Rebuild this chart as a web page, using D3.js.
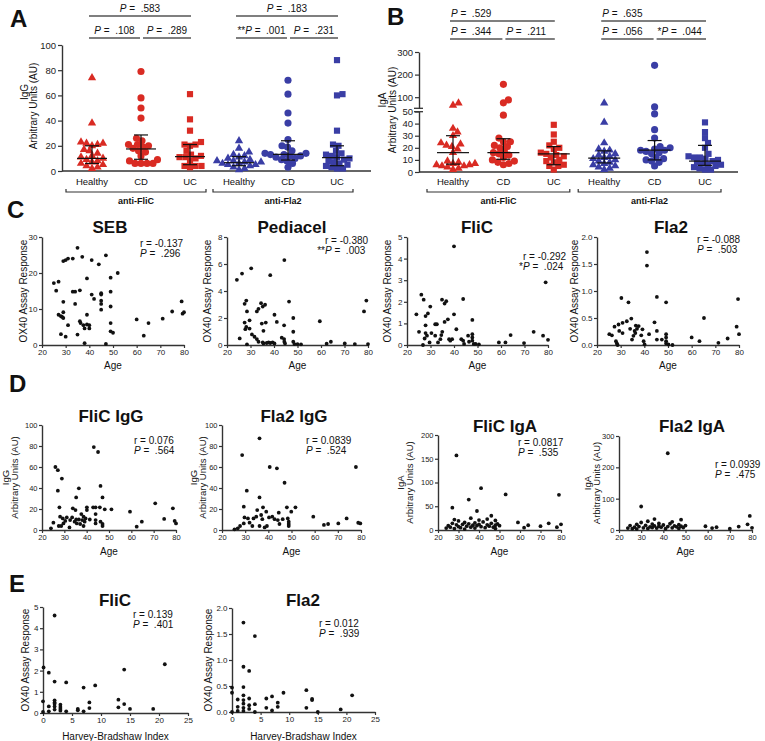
<!DOCTYPE html>
<html>
<head>
<meta charset="utf-8">
<script src="https://cdn.jsdelivr.net/npm/d3@7/dist/d3.min.js"></script>
<style>
  body { margin: 0; background: #fff; }
  svg { display: block; }
</style>
</head>
<body>
<svg id="fig" width="765" height="741"></svg>
<script>
// ---------- data ----------
var groupLabels = ['Healthy', 'CD', 'UC', 'Healthy', 'CD', 'UC'];
var antigenLabels = ['anti-FliC', 'anti-Fla2'];

// A: IgG (AU)
var iggFliCHealthy = [74, 38, 23, 22, 22, 21, 20, 17, 16, 14, 12, 11, 10, 9, 8, 7, 6, 5, 4, 3, 2];
var iggFliCCD = [79, 58, 50, 42, 26, 24, 21, 21, 20, 19, 18, 16, 15, 12, 9, 8, 6, 6, 6, 6];
var iggFliCUC = [61, 41, 32, 23, 21, 21, 20, 16, 13, 12, 11, 11, 10, 8, 4, 4, 4, 3];
var iggFla2Healthy = [24, 18, 15, 13, 12, 11, 10, 9, 8, 8, 7, 7, 6, 6, 5, 5, 4, 3, 2, 1];
var iggFla2CD = [72, 61, 46, 38, 25, 20, 19, 16, 14, 14, 13, 13, 12, 12, 11, 10, 9, 8, 6, 3];
var iggFla2UC = [88, 61, 60, 32, 21, 20, 16, 14, 13, 12, 11, 10, 9, 8, 7, 6, 5, 4, 3, 2, 2];
var iggMedian = [10, 17.5, 11.4, 6.6, 13.2, 10.6];
var iggQ1 = [6, 9.3, 5, 4.2, 8.7, 4.2];
var iggQ3 = [20, 28.6, 21, 11.4, 24, 20];
var iggPTop = [['', '.583'], ['', '.183']];
var iggPLeft = [['', '.108'], ['**', '.001']];
var iggPRight = [['', '.289'], ['', '.231']];

// B: IgA (AU)
var igaFliCHealthy = [74, 64, 36, 33, 30, 24, 23, 22, 21, 19, 16, 9, 8, 7, 7, 6, 6, 5, 5, 4, 3, 2];
var igaFliCCD = [157, 88, 75, 47, 28, 25, 25, 22, 21, 20, 17, 16, 15, 14, 12, 10, 9, 8, 7, 6];
var igaFliCUC = [39, 31, 25, 22, 20, 19, 16, 15, 14, 13, 12, 10, 9, 8, 6, 5, 5, 2];
var igaFla2Healthy = [74, 41, 24, 19, 18, 17, 15, 14, 13, 12, 11, 10, 9, 8, 7, 6, 5, 4, 3, 2];
var igaFla2CD = [241, 57, 48, 35, 28, 21, 20, 19, 18, 18, 17, 16, 15, 12, 11, 10, 9, 8, 5];
var igaFla2UC = [41, 33, 28, 24, 20, 15, 13, 12, 12, 11, 10, 9, 8, 7, 6, 6, 5, 4, 3, 2, 2];
var igaMedian = [16, 16, 15, 11.5, 18, 9];
var igaQ1 = [6.5, 10.5, 6, 7.5, 10, 5.5];
var igaQ3 = [30, 27.5, 21, 17.5, 26, 22];
var igaPTop = [['', '.529'], ['', '.635']];
var igaPLeft = [['', '.344'], ['', '.056']];
var igaPRight = [['', '.211'], ['*', '.044']];

// C: OX40 response vs age  [age, response]
var sebPts = [[25,17.2],[26,15.1],[27,17.6],[27,8.4],[28,8],[28.5,7.8],[29,7.5],[29,9.1],[29,12],[29,23.3],[30,23.6],[31,24],[33,24],[35,27],[37,24.5],[41,23.6],[44,22.4],[47,24.9],[52,20],[49,18.7],[39,18.5],[33,14.8],[34,14.8],[36,15.2],[41,14],[42,12.8],[45,14.4],[45,14],[45,12.3],[45,11.4],[45,9.8],[49,14.8],[49,10.7],[34,11.4],[31,5.5],[36,6.6],[36.3,6.1],[37.5,5.5],[39,8.4],[39,5.7],[40,5.5],[40,4.6],[38,4.6],[28,3],[30,2.3],[35,2.9],[38,0.5],[47,0.3],[49,6.1],[49,3.8],[50,3.4],[60,7.1],[65,6.1],[63,2.6],[71,7.3],[75,9.3],[79,12.1],[79.4,8.7],[80,9.1]];
var pediacelPts = [[24.2,4.83],[26.4,5.29],[30.3,5.68],[38.4,5.17],[44.4,6.29],[46.4,3.22],[27.5,3.05],[28.2,3.29],[28.5,2.49],[29.6,1.83],[32.7,2.49],[33.4,2.68],[34.5,3.1],[35.2,2.85],[36.2,2.98],[40.2,2.24],[41.2,1.71],[44.3,1.46],[48.2,2],[48.2,0.98],[34.8,1.59],[36.5,1.66],[35.5,1.05],[27.5,1.66],[27.8,1.17],[28.2,1.34],[29.6,1.22],[30.6,0.78],[31.7,0.61],[32.7,0.44],[25.4,0.49],[33.4,0.24],[35.2,0.2],[35.5,0.12],[36.9,0.15],[37.7,0.2],[38.4,0.15],[39.4,0.2],[40.2,0.12],[43.3,0.54],[44.3,0.44],[44.4,0.24],[44.7,0.12],[48.2,0.24],[48.7,0.07],[50,0.07],[51.5,0.05],[28.5,0.05],[59.5,1.76],[62.4,0.1],[64.2,0.24],[70.1,0.12],[74.4,0.07],[78.3,2.49],[79.3,3.29],[80,0.07]];
var flicOxPts = [[24,1.42],[25.1,0.61],[26.1,2.33],[27.1,2.1],[26.8,0],[27.5,0.3],[27.9,1.34],[27.9,0.91],[27.9,0.55],[28.5,0.43],[28.9,1.46],[29.9,1.78],[29.6,0.12],[30.4,0.55],[32,0.96],[32.7,0.96],[32,0.43],[33.2,0.12],[34.2,0.27],[34.6,0.46],[35,0.61],[34.9,2.1],[36,1.92],[36.7,2.03],[36,1.07],[37.4,1.19],[37.9,0.27],[38.4,0.2],[39.2,0.27],[40,4.57],[40,1.42],[41,0.73],[43.9,2.13],[43.1,0.27],[43.9,0.2],[44.3,0.05],[46,0.43],[46.4,0.15],[47.8,1.16],[47.8,0.5],[47.8,0.35],[47.8,0.2],[48.4,0.05],[49.2,0.05],[50.6,0.03],[59.1,0.12],[61.9,0.12],[64.1,0.46],[69.8,0.09],[73.9,0.61],[77.9,0.43],[79,2.9],[80,0.24]];
var fla2OxPts = [[25.2,0.2],[26.3,0.18],[27.4,0.34],[28,0.07],[28.4,0.03],[28.7,0],[29.1,0.38],[29.4,0.26],[30.3,0.87],[30.8,0.41],[30.8,0.22],[32.6,0.44],[33.3,0.79],[34,0.3],[34.5,0.49],[34.8,0.1],[35.4,0.17],[35.9,0.26],[36.2,0.22],[36.4,0.36],[36.9,0.3],[37.6,0.35],[38.7,0.18],[39.2,0.29],[39.7,0.07],[40.1,0.01],[41.1,1.72],[41.1,1.47],[42,0.2],[44.3,0.42],[45.3,0.89],[45.3,0.26],[45.3,0.1],[47.4,0.1],[49.2,0.79],[49.2,0.2],[49.2,0.14],[49.2,0.07],[49.2,0.03],[50.2,0.01],[51.9,0],[60,0.14],[63.3,0.07],[65.2,0.5],[71.3,0.04],[75.2,0.12],[79,0.34],[79.6,0.85],[80,0.2]];

// D: antibody level vs age  [age, AU]
var flicIgGPts = [[24,1.6],[25.1,7],[26,60],[27.1,57],[27.1,37.5],[27.5,3.8],[27.8,21.6],[28.1,12.7],[28.6,3.8],[28.9,49],[29.3,11],[29.6,6.3],[30.4,8.6],[31.1,12],[32.3,2.5],[32.6,9.5],[33.5,12],[33.8,20.6],[34.6,7.9],[35,19],[35.3,10],[35.3,31],[35.6,6.3],[36.5,39.7],[36.5,10],[37.1,5.7],[37.6,15.2],[38,9.5],[38.6,12.7],[38.6,3.8],[39.1,7.9],[39.5,11],[40.1,21.6],[40.1,19],[41.4,10],[42.9,21.6],[43.2,79],[44,21.6],[44,15.2],[44,9.5],[44,6.3],[45.1,74.3],[45.9,21.6],[46.2,42],[46.2,7.9],[47.1,31],[47.1,5.7],[47.1,3.8],[48.1,19.7],[51.1,19.7],[59.4,17.5],[62.4,3.2],[64.7,7.9],[70.7,25.4],[74.7,10.5],[78.6,20.6],[79.4,8.6],[80,6.3]];
var fla2IgGPts = [[25.4,0.6],[26.8,1.6],[27.8,3.8],[28.7,71.4],[29.4,22.2],[29.4,6.3],[29.7,12],[30.7,37.5],[31.2,11],[31.9,7],[33.1,3.8],[33.6,11],[34.8,12.7],[35.2,19],[36.2,31],[36.2,87.3],[36.2,3.8],[36.9,14.3],[37.4,10.3],[37.7,21.6],[38.4,2.5],[39.1,17.5],[39.4,3.8],[40.3,12],[40.6,60],[41.7,12.7],[42.7,10.3],[43.7,58.7],[44.1,9.5],[44.5,16.5],[44.8,5.7],[46.2,10.3],[47,45],[48,21.6],[48.4,11],[48.8,7.9],[48.8,5.7],[48.8,3.8],[49.9,17.5],[51.7,21.6],[59.4,12.7],[64,4.8],[65.8,5.7],[70.2,6.3],[73.8,11],[77.8,60],[78.8,6.9],[79.7,6.3]];
var flicIgAPts = [[24,4],[25,9],[26,6],[27,47],[27,14],[28,3],[28,22],[29,157],[29,11],[30,7],[30,19],[31,5],[32,12],[33,16],[33,2],[34,8],[35,64],[35,13],[36,25],[36,6],[37,10],[38,15],[38,4],[39,40],[39,9],[40,21],[40,12],[41,88],[41,7],[42,17],[43,5],[44,23],[44,11],[45,8],[46,14],[46,30],[47,6],[48,10],[48,20],[48,3],[49,13],[50,9],[53,75],[59,16],[62,5],[64,10],[70,8],[74,14],[78,6],[79,74],[80,12]];
var fla2IgAPts = [[24,6],[25,14],[26,4],[27,9],[28,18],[28,3],[29,11],[30,75],[30,24],[31,7],[32,15],[33,5],[33,28],[34,10],[35,19],[35,8],[36,13],[36,35],[37,6],[38,21],[38,12],[39,9],[40,16],[41,4],[42,245],[42,11],[43,20],[44,7],[44,26],[45,13],[46,10],[47,17],[47,5],[48,12],[48,33],[49,8],[50,14],[59,12],[62,6],[64,9],[70,4],[74,11],[78,18],[79,45],[80,7]];

// E: OX40 response vs Harvey-Bradshaw index  [HBI, response]
var flicHbiPts = [[0.1,2.15],[1,1.9],[2,1.48],[2,4.6],[4,1.44],[7,1.2],[9,1.3],[14,2.05],[21,2.3],[0,0.55],[0,0.05],[1,0.31],[1,0.08],[2,0.5],[2,0.44],[2,0.31],[2,0.16],[2,0.6],[3,0.39],[3,0.28],[3,0.19],[3,0.11],[4,0.08],[6,0.19],[6,0.13],[7,0.08],[8,0.5],[8,0.23],[13,0.63],[13,0.27],[14,0.42],[15,0.19],[19,0.19]];
var fla2HbiPts = [[0,0.37],[0,0.47],[0,0],[1,0.24],[1,0.1],[1,0.02],[2,1.72],[2,0.87],[2,0.48],[2,0.32],[2,0.23],[2,0.16],[2,0.08],[2,0.02],[3,0.79],[3,0.26],[3,0.13],[3,0.06],[4,1.46],[4,0.15],[4,0],[6,0.26],[6,0.08],[7,0.3],[7,0.03],[8,0.18],[8,0.1],[9,0.37],[13,0.42],[13,0.08],[14,0.25],[14,0.23],[15,0],[19,0.05],[21,0.32]];

// ---------- drawing ----------
var FONT = '"Liberation Sans", Arial, Helvetica, sans-serif';
var RED = '#d92b23', BLUE = '#3a3ea5', INK = '#111', AX = '#333';

var svg = d3.select('#fig').attr('font-family', FONT);
svg.append('rect').attr('width', 765).attr('height', 741).attr('fill', '#fff');

function styleAxis(g, fs) {
    g.attr('font-family', FONT).attr('font-size', fs);
    g.select('.domain').attr('stroke', AX).attr('stroke-width', 1.4);
    g.selectAll('.tick line').attr('stroke', AX).attr('stroke-width', 1.2);
    g.selectAll('.tick text').attr('fill', '#222');
}

function label(x, y, s, size, opts) {
    opts = opts || {};
    return svg.append('text')
        .attr('x', x).attr('y', y)
        .attr('font-size', size)
        .attr('font-weight', opts.bold ? 'bold' : null)
        .attr('text-anchor', opts.anchor || 'start')
        .attr('fill', INK)
        .text(s);
}

function vlabel(x, cy, s, size) {
    return svg.append('text')
        .attr('transform', 'translate(' + x + ',' + cy + ') rotate(-90)')
        .attr('text-anchor', 'middle')
        .attr('font-size', size)
        .attr('fill', INK)
        .text(s);
}

function pLabel(x, y, anchor, stars, val, size) {
    var t = svg.append('text').attr('x', x).attr('y', y)
        .attr('text-anchor', anchor).attr('font-size', size).attr('fill', INK);
    t.append('tspan').text(stars);
    t.append('tspan').attr('font-style', 'italic').text('P');
    t.append('tspan').text(' =\u00a0\u00a0' + val);
    return t;
}

// simple beeswarm: push each point sideways until it no longer overlaps
function swarm(vals, yf, d) {
    var placed = [];
    vals.slice().sort(d3.ascending).forEach(function (v) {
        var py = yf(v), dx = 0;
        for (var k = 0; k < 400; k++) {
            dx = (k % 2 ? 1 : -1) * Math.ceil(k / 2) * 0.5;
            var ok = placed.every(function (p) {
                return (p.dx - dx) * (p.dx - dx) + (p.y - py) * (p.y - py) >= d * d;
            });
            if (ok) break;
        }
        placed.push({ v: v, y: py, dx: dx });
    });
    return placed;
}

function dotColumns(o) {
    var x = d3.scalePoint().domain(d3.range(6)).range(o.xRange);
    var shapes = [d3.symbolTriangle, d3.symbolCircle, d3.symbolSquare];
    var sizes = [30, 40, 38];

    o.groups.forEach(function (vals, i) {
        var col = i < 3 ? RED : BLUE;
        var pts = swarm(vals, o.y, 5.6);
        svg.append('g').selectAll('path').data(pts).enter().append('path')
            .attr('d', d3.symbol().type(shapes[i % 3]).size(sizes[i % 3]))
            .attr('transform', function (d) { return 'translate(' + (x(i) + d.dx) + ',' + d.y + ')'; })
            .attr('fill', col);

        var cx = x(i);
        var bars = svg.append('g').attr('stroke', INK).attr('stroke-width', 1.2);
        bars.append('line')
            .attr('x1', cx - o.medHalf).attr('x2', cx + o.medHalf)
            .attr('y1', o.y(o.med[i])).attr('y2', o.y(o.med[i]));
        bars.append('line')
            .attr('x1', cx).attr('x2', cx)
            .attr('y1', o.y(o.q1[i])).attr('y2', o.y(o.q3[i]));
        [o.q1[i], o.q3[i]].forEach(function (q) {
            bars.append('line').attr('x1', cx - 7).attr('x2', cx + 7).attr('y1', o.y(q)).attr('y2', o.y(q));
        });

        label(cx, o.catY, groupLabels[i], 9.5, { anchor: 'middle' });
    });

    [0, 1].forEach(function (k) {
        var h = x(k * 3), c = x(k * 3 + 1), u = x(k * 3 + 2);
        var a = h - 26, b = u + 16;
        svg.append('path')
            .attr('d', 'M' + a + ',' + (o.brY - 3) + 'V' + o.brY + 'H' + b + 'V' + (o.brY - 3))
            .attr('fill', 'none').attr('stroke', AX).attr('stroke-width', 1.2);
        label((a + b) / 2, o.brY + 12, antigenLabels[k], 9, { anchor: 'middle', bold: true });

        var segs = [
            [h - 3, u + 1, o.pY1, o.pTop[k]],
            [h - 3, c - 1, o.pY2, o.pLeft[k]],
            [c + 2, u + 1, o.pY2, o.pRight[k]]
        ];
        segs.forEach(function (s) {
            svg.append('line').attr('x1', s[0]).attr('x2', s[1]).attr('y1', s[2]).attr('y2', s[2])
                .attr('stroke', '#555').attr('stroke-width', 1.3);
            if (o.pAnchor === 'middle') {
                pLabel((s[0] + s[1]) / 2, s[2] - 4, 'middle', s[3][0], s[3][1], 10);
            } else {
                pLabel(s[0] + 1, s[2] - 4, 'start', s[3][0], s[3][1], 10);
            }
        });
    });
}

function scatter(o) {
    var x = d3.scaleLinear().domain(o.xd).range([o.left, o.right]);
    var y = d3.scaleLinear().domain(o.yd).range([o.bottom, o.top]);

    var gx = svg.append('g').attr('transform', 'translate(0,' + o.bottom + ')')
        .call(d3.axisBottom(x).tickValues(o.xt).tickFormat(d3.format('d'))
            .tickSize(3).tickSizeOuter(0).tickPadding(1.5));
    styleAxis(gx, o.fs);
    var gy = svg.append('g').attr('transform', 'translate(' + o.left + ',0)')
        .call(d3.axisLeft(y).tickValues(o.yt).tickFormat(d3.format(o.yf || 'd'))
            .tickSize(3).tickSizeOuter(0).tickPadding(1.5));
    styleAxis(gy, o.fs);

    svg.append('g').selectAll('circle').data(o.data).enter().append('circle')
        .attr('cx', function (d) { return x(d[0]); })
        .attr('cy', function (d) { return y(d[1]); })
        .attr('r', 1.9)
        .attr('fill', INK);

    label(o.tx, o.ty, o.title, 17, { anchor: 'middle', bold: true });
    label((o.left + o.right) / 2, o.xly, o.xlab, 10, { anchor: 'middle' });
    o.ylab.forEach(function (s, i) {
        vlabel(o.ylx[i], (o.top + o.bottom) / 2, s, o.ylfs || 10);
    });

    label(o.sx, o.sy, 'r = ' + o.r, 10);
    pLabel(o.sx, o.sy + 10, 'start', '', o.p, 10);
    if (o.stars) label(o.sx, o.sy + 10, o.stars, 10, { anchor: 'end' });
}

// ---- panel letters ----
[['A', 10, 27], ['B', 387, 25], ['C', 7, 218], ['D', 9, 392], ['E', 9, 592]].forEach(function (l) {
    label(l[1], l[2], l[0], 24, { bold: true });
});

// ---- panel A ----
var yA = d3.scaleLinear().domain([0, 100]).range([171, 45]);
var gA = svg.append('g').attr('transform', 'translate(62,0)')
    .call(d3.axisLeft(yA).tickValues(d3.range(0, 101, 20)).tickSize(4).tickSizeOuter(0).tickPadding(2));
styleAxis(gA, 9.5);
svg.append('line').attr('x1', 62).attr('x2', 371).attr('y1', 171).attr('y2', 171)
    .attr('stroke', AX).attr('stroke-width', 1.4);
vlabel(28, 92, 'IgG', 10);
vlabel(37, 106, 'Arbitrary Units (AU)', 10);

dotColumns({
    groups: [iggFliCHealthy, iggFliCCD, iggFliCUC, iggFla2Healthy, iggFla2CD, iggFla2UC],
    med: iggMedian, q1: iggQ1, q3: iggQ3,
    y: yA, xRange: [92, 337], medHalf: 15,
    catY: 185, brY: 192,
    pY1: 16, pY2: 38, pAnchor: 'middle',
    pTop: iggPTop, pLeft: iggPLeft, pRight: iggPRight
});

// ---- panel B (broken axis at 50) ----
var yBLow = d3.scaleLinear().domain([0, 50]).range([172, 111.5]);
var yBHigh = d3.scaleLinear().domain([50, 300]).range([108.5, 52]);
function yB(v) { return v <= 50 ? yBLow(v) : yBHigh(v); }

var gBl = svg.append('g').attr('transform', 'translate(419,0)')
    .call(d3.axisLeft(yBLow).tickValues(d3.range(0, 51, 10)).tickSize(4).tickSizeOuter(0).tickPadding(2));
styleAxis(gBl, 9.5);
var gBh = svg.append('g').attr('transform', 'translate(419,0)')
    .call(d3.axisLeft(yBHigh).tickValues([100, 200, 300]).tickSize(4).tickSizeOuter(0).tickPadding(2));
styleAxis(gBh, 9.5);
[108.3, 111.7].forEach(function (yy) {
    svg.append('line').attr('x1', 414).attr('x2', 423).attr('y1', yy).attr('y2', yy)
        .attr('stroke', AX).attr('stroke-width', 1.3);
});
svg.append('line').attr('x1', 419).attr('x2', 738).attr('y1', 172).attr('y2', 172)
    .attr('stroke', AX).attr('stroke-width', 1.4);
vlabel(386, 100, 'IgA', 10);
vlabel(396, 110, 'Arbitrary Units (AU)', 10);

dotColumns({
    groups: [igaFliCHealthy, igaFliCCD, igaFliCUC, igaFla2Healthy, igaFla2CD, igaFla2UC],
    med: igaMedian, q1: igaQ1, q3: igaQ3,
    y: yB, xRange: [453, 705], medHalf: 16,
    catY: 185, brY: 192,
    pY1: 21, pY2: 39, pAnchor: 'start',
    pTop: igaPTop, pLeft: igaPLeft, pRight: igaPRight
});

// ---- panel C ----
var ageTicks = d3.range(20, 81, 10);
var ox = 'OX40 Assay Response';
scatter({ left: 42, right: 184, top: 237, bottom: 345, xd: [20, 80], xt: ageTicks, yd: [0, 30], yt: [0, 10, 20, 30],
    fs: 8, data: sebPts, title: 'SEB', tx: 110, ty: 233, xlab: 'Age', xly: 369, ylab: [ox], ylx: [27],
    r: '-0.137', p: '.296', sx: 140, sy: 247 });
scatter({ left: 227, right: 368, top: 237, bottom: 345, xd: [20, 80], xt: ageTicks, yd: [0, 8], yt: [0, 2, 4, 6, 8],
    fs: 8, data: pediacelPts, title: 'Pediacel', tx: 292, ty: 233, xlab: 'Age', xly: 369, ylab: [ox], ylx: [211],
    r: '-0.380', p: '.003', stars: '**', sx: 325, sy: 244 });
scatter({ left: 407, right: 548, top: 237, bottom: 345, xd: [20, 80], xt: ageTicks, yd: [0, 5], yt: [0, 1, 2, 3, 4, 5],
    fs: 8, data: flicOxPts, title: 'FliC', tx: 477, ty: 233, xlab: 'Age', xly: 369, ylab: [ox], ylx: [391],
    r: '-0.292', p: '.024', stars: '*', sx: 523, sy: 260 });
scatter({ left: 597, right: 739, top: 237, bottom: 345, xd: [20, 80], xt: ageTicks, yd: [0, 2], yt: [0, 0.5, 1, 1.5, 2],
    yf: '.1f', fs: 8, data: fla2OxPts, title: 'Fla2', tx: 671, ty: 233, xlab: 'Age', xly: 369, ylab: [ox], ylx: [578],
    r: '-0.088', p: '.503', sx: 697, sy: 243 });

// ---- panel D ----
scatter({ left: 42, right: 176, top: 425, bottom: 530, xd: [20, 80], xt: ageTicks, yd: [0, 100], yt: d3.range(0, 101, 20),
    fs: 7.5, data: flicIgGPts, title: 'FliC IgG', tx: 111, ty: 422, xlab: 'Age', xly: 555,
    ylab: ['IgG', 'Arbitrary Units (AU)'], ylx: [9, 18], ylfs: 9.5, r: '0.076', p: '.564', sx: 134, sy: 444 });
scatter({ left: 222, right: 361, top: 425, bottom: 530, xd: [20, 80], xt: ageTicks, yd: [0, 100], yt: d3.range(0, 101, 20),
    fs: 7.5, data: fla2IgGPts, title: 'Fla2 IgG', tx: 294, ty: 422, xlab: 'Age', xly: 555,
    ylab: ['IgG', 'Arbitrary Units (AU)'], ylx: [197, 206], ylfs: 9.5, r: '0.0839', p: '.524', sx: 306, sy: 444 });
scatter({ left: 438, right: 561, top: 435, bottom: 530, xd: [20, 80], xt: ageTicks, yd: [0, 200], yt: d3.range(0, 201, 50),
    fs: 7.5, data: flicIgAPts, title: 'FliC IgA', tx: 505, ty: 432, xlab: 'Age', xly: 555,
    ylab: ['IgA', 'Arbitrary Units (AU)'], ylx: [404, 413], ylfs: 9.5, r: '0.0817', p: '.535', sx: 518, sy: 446 });
scatter({ left: 619, right: 752, top: 436, bottom: 530, xd: [20, 80], xt: ageTicks, yd: [0, 300], yt: [0, 100, 200, 300],
    fs: 7.5, data: fla2IgAPts, title: 'Fla2 IgA', tx: 692, ty: 432, xlab: 'Age', xly: 555,
    ylab: ['IgA', 'Arbitrary Units (AU)'], ylx: [591, 600], ylfs: 9.5, r: '0.0939', p: '.475', sx: 715, sy: 468 });

// ---- panel E ----
var hbiTicks = d3.range(0, 26, 5);
scatter({ left: 43, right: 188, top: 607, bottom: 713, xd: [0, 25], xt: hbiTicks, yd: [0, 5], yt: [0, 1, 2, 3, 4, 5],
    fs: 8, data: flicHbiPts, title: 'FliC', tx: 115, ty: 606, xlab: 'Harvey-Bradshaw Index', xly: 740, ylab: [ox], ylx: [29],
    r: '0.139', p: '.401', sx: 133, sy: 618 });
scatter({ left: 232, right: 375, top: 608, bottom: 712, xd: [0, 25], xt: hbiTicks, yd: [0, 2], yt: [0, 0.5, 1, 1.5, 2],
    yf: '.1f', fs: 8, data: fla2HbiPts, title: 'Fla2', tx: 303, ty: 606, xlab: 'Harvey-Bradshaw Index', xly: 740, ylab: [ox], ylx: [212],
    r: '0.012', p: '.939', sx: 319, sy: 627 });
</script>
</body>
</html>
